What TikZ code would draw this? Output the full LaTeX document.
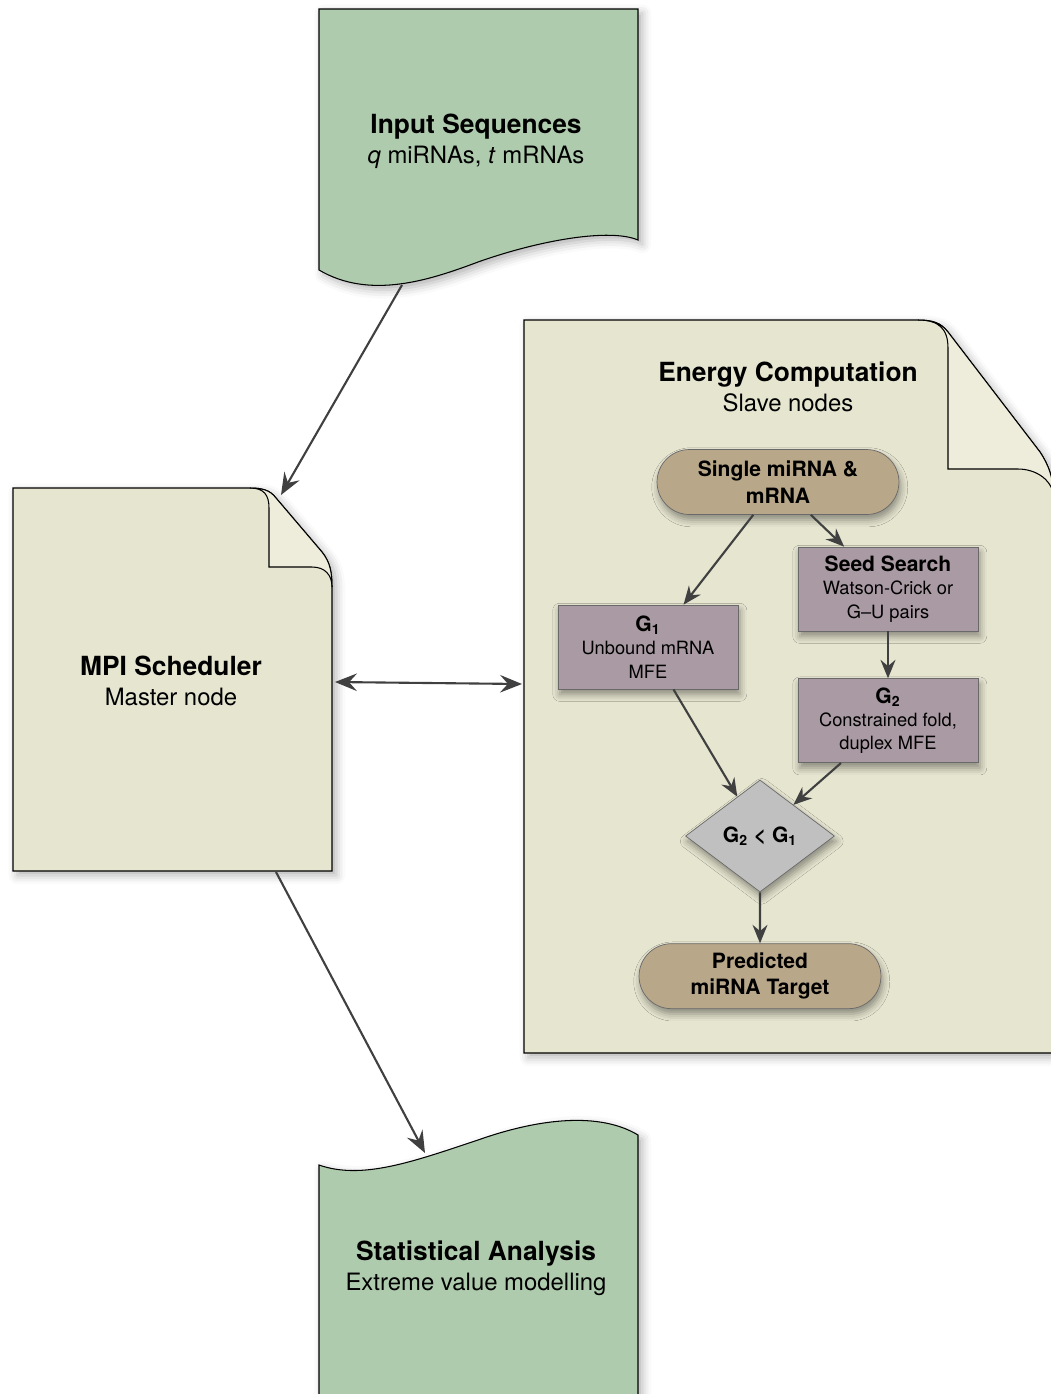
\documentclass[tikz,border=0pt]{standalone}
\usepackage{fontspec}
\setmainfont{TeX Gyre Heros}
\usetikzlibrary{shapes.geometric,shapes.misc,arrows.meta,positioning,calc,shadows.blur}
\definecolor{docgreen}{RGB}{174,203,173}
\definecolor{docbeige}{RGB}{230,229,208}
\definecolor{foldbeige}{RGB}{238,237,220}
\definecolor{pilltan}{RGB}{185,167,138}
\definecolor{boxmauve}{RGB}{169,154,163}
\definecolor{boxgray}{RGB}{192,192,192}
\definecolor{edgegray}{RGB}{105,105,105}
\definecolor{arrowgray}{RGB}{64,64,64}
\newcommand{\doctitle}{\fontsize{15}{17}\selectfont\bfseries}
\newcommand{\docsub}{\fontsize{13.6}{17}\selectfont}
\newcommand{\boxhead}{\fontsize{12}{13.3}\selectfont\bfseries}
\tikzstyle{softshadow} = [blur shadow={shadow xshift=1pt, shadow yshift=-3pt, shadow blur radius=4pt, shadow opacity=40}]
\tikzstyle{doc} = [draw=black, line width=0.6pt, blur shadow={shadow xshift=2.5pt, shadow yshift=-2.5pt, shadow blur radius=5pt, shadow opacity=30}]
\tikzstyle{fold} = [draw=black, line width=0.6pt, fill=foldbeige]
\tikzstyle{doctext} = [align=center, inner sep=0pt, font=\fontsize{13.6}{17}\selectfont]
\tikzstyle{stepbox} = [rectangle, draw=edgegray, fill=boxmauve, minimum width=3.6cm, minimum height=1.68cm, inner sep=2pt, align=center, font=\fontsize{10.4}{13.3}\selectfont, softshadow]
\tikzstyle{pill} = [rounded rectangle, draw=edgegray, fill=pilltan, minimum width=4.98cm, minimum height=1.3cm, inner sep=2pt, align=center, font=\fontsize{12}{15}\selectfont\bfseries, softshadow]
\tikzstyle{decision} = [diamond, draw=edgegray, fill=boxgray, minimum width=2.98cm, minimum height=2.24cm, inner sep=0pt, font=\boxhead, softshadow]
\tikzstyle{line} = [draw=arrowgray, line width=1.2pt, -{Stealth[length=12.5pt, width=10pt, inset=4.5pt]}]
\tikzstyle{both} = [{Stealth[length=12.5pt, width=10pt, inset=4.5pt]}-{Stealth[length=12.5pt, width=10pt, inset=4.5pt]}]
\tikzstyle{inner} = [-{Stealth[length=10.5pt, width=8.5pt, inset=3.5pt]}]

\begin{document}
\begin{tikzpicture}[x=0.02cm, y=-0.02cm]
	\useasboundingbox (0,0) rectangle (1051,1394);
	
	% Documents
	\path[doc, fill=docgreen] (319,9) -- (638,9) -- (638,240) .. controls (610,228) and (540,240) .. (478,262) .. controls (430,280) and (370,300) .. (319,270) -- cycle;
	\path[doc, fill=docbeige] (13,488) -- (250,488) .. controls (262,488) and (270,490) .. (276,498) -- (322,552) .. controls (330,562) and (332,572) .. (332,587) -- (332,871) -- (13,871) -- cycle;
	\path[fold] (250,488) .. controls (264,488) and (269,495) .. (269,508) -- (269,567) -- (312,567) .. controls (325,567) and (332,575) .. (332,587) .. controls (332,572) and (330,562) .. (322,552) -- (276,498) .. controls (270,490) and (262,488) .. (250,488);
	\path[doc, fill=docbeige] (524,320) -- (918,320) .. controls (933,320) and (941,323) .. (948,332) -- (1040,452) .. controls (1048,464) and (1054,478) .. (1054,500) -- (1054,1053) -- (524,1053) -- cycle;
	\path[fold] (918,320) .. controls (938,320) and (948,328) .. (948,348) -- (948,469) -- (1018,469) .. controls (1036,469) and (1054,480) .. (1054,500) .. controls (1054,478) and (1048,464) .. (1040,452) -- (948,332) .. controls (941,323) and (933,320) .. (918,320);
	\path[doc, fill=docgreen] (319,1165) .. controls (362,1180) and (412,1162) .. (478,1140) .. controls (540,1118) and (600,1112) .. (638,1135) -- (638,1420) -- (319,1420) -- cycle;
	
	% Document labels
	\node[doctext] (inseq) at (476,141) {{\doctitle Input Sequences}\\{\docsub \textit{q} miRNAs, \textit{t} mRNAs}};
	\node[doctext] (mpi) at (171,681) {{\doctitle MPI Scheduler}\\{\docsub Master node}};
	\node[doctext] (energy) at (788,387) {{\doctitle Energy Computation}\\{\docsub Slave nodes}};
	\node[doctext] (stats) at (476,1268) {{\doctitle Statistical Analysis}\\{\docsub Extreme value modelling}};
	
	% end points on the document outlines
	\coordinate (inseq-out) at (402,285);
	\coordinate (mpi-in) at (281,495);
	\coordinate (mpi-east) at (335,682);
	\coordinate (energy-west) at (522,684);
	\coordinate (mpi-out) at (276,872);
	\coordinate (stats-in) at (425,1153);
	
	% Slave node flow
	\node[pill] (single) at (778,482) {Single miRNA \&\\mRNA};
	\node[stepbox] (g1) at (648,647) {{\boxhead G\textsubscript{1}}\\Unbound mRNA\\MFE};
	\node[stepbox] (seed) at (888,589) {{\boxhead Seed Search}\\Watson-Crick or\\G--U pairs};
	\node[stepbox, below=0.94cm of seed] (g2) {{\boxhead G\textsubscript{2}}\\Constrained fold,\\duplex MFE};
	\node[decision] (check) at (760,836) {G\textsubscript{2} < G\textsubscript{1}};
	\node[pill, below=1.02cm of check] (predicted) {Predicted\\miRNA Target};
	
	% Paths
	\path [line] (inseq-out) -- (mpi-in);
	\path [line, both] (mpi-east) -- (energy-west);
	\path [line] (mpi-out) -- (stats-in);
	\path [line, inner] (single.-127) -- (g1.50);
	\path [line, inner] (single.-45) -- (seed.136);
	\path [line, inner] (seed) -- (g2);
	\path [line, inner] (g1.-59) -- (check.120);
	\path [line, inner] (g2.-138) -- (check.43);
	\path [line, inner] (check) -- (predicted);
	
\end{tikzpicture}
\end{document}
